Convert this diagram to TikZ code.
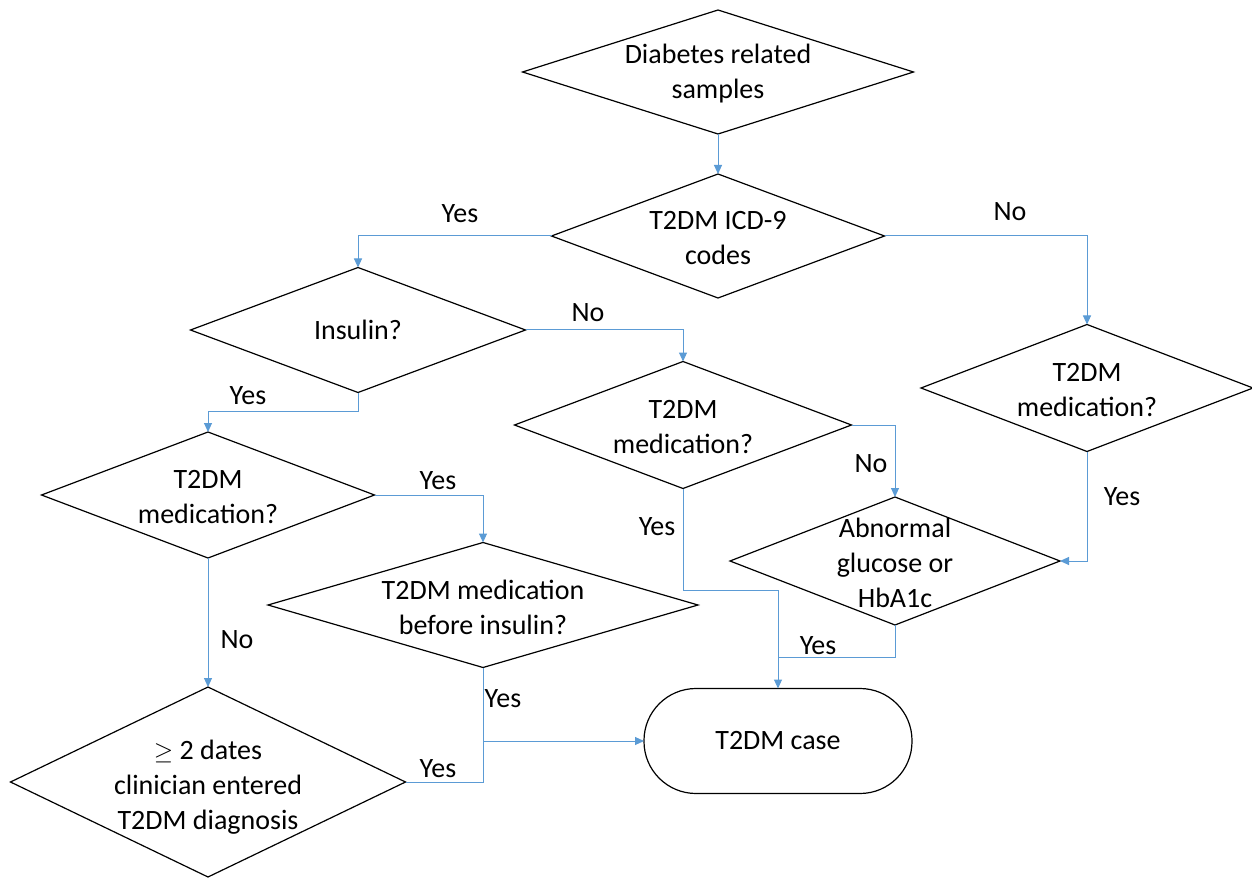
\documentclass[tikz,border=0pt]{standalone}
\usepackage{fontspec}
\setmainfont{Carlito}
\usetikzlibrary{shapes.geometric,arrows.meta}
\definecolor{lineblue}{RGB}{91,155,213}
\begin{document}
\begin{tikzpicture}[x=1pt,y=-1pt,
  dia/.style={draw=black,line width=1.2pt,shape=diamond,inner sep=0pt,outer sep=0pt},
  term/.style={draw=black,line width=1.2pt,rectangle,rounded corners=52pt,inner sep=0pt,outer sep=0pt,
    minimum width=268pt,minimum height=105pt,align=center,font=\fontsize{28}{35}\selectfont},
  txt/.style={align=center,font=\fontsize{28}{35}\selectfont,inner sep=0pt},
  lbl/.style={font=\fontsize{28}{35}\selectfont,inner sep=0pt},
  flow/.style={draw=lineblue,line width=1pt},
  arr/.style={flow,-{Triangle[length=9pt,width=8pt]}}]
\useasboundingbox (0,0) rectangle (1252,882);

\node[dia,minimum width=391pt,minimum height=124pt] (d1) at (718,72) {};
\node[txt] (d1t) at (718,74) {Diabetes related\\samples};
\node[dia,minimum width=333pt,minimum height=124pt] (d2) at (718,236) {};
\node[txt] (d2t) at (718,238) {T2DM ICD-9\\codes};
\node[dia,minimum width=335pt,minimum height=125pt] (d3) at (358,330) {};
\node[txt] (d3t) at (358,330) {Insulin?};
\node[dia,minimum width=337pt,minimum height=127pt] (d4) at (683,425) {};
\node[txt] (d4t) at (683,427) {T2DM\\medication?};
\node[dia,minimum width=332pt,minimum height=127pt] (d5) at (1087,388) {};
\node[txt] (d5t) at (1087,390) {T2DM\\medication?};
\node[dia,minimum width=333pt,minimum height=126pt] (d6) at (208,495) {};
\node[txt] (d6t) at (208,497) {T2DM\\medication?};
\node[dia,minimum width=330pt,minimum height=128pt] (d7) at (895,561) {};
\node[txt] (d7t) at (895,563) {Abnormal\\glucose or\\HbA1c};
\node[dia,minimum width=430pt,minimum height=125pt] (d8) at (483,605) {};
\node[txt] (d8t) at (483,607) {T2DM medication\\before insulin?};
\node[dia,minimum width=395pt,minimum height=190pt] (d9) at (208,782) {};
\node[txt] (d9t) at (208,787) {$\geq$ 2 dates\\clinician entered\\T2DM diagnosis};
\node[term] (case) at (778,741) {T2DM case};

\coordinate (k1) at (683,590);
\coordinate (m1) at (778,657);
\coordinate (j2) at (483,741);

\draw[arr] (d1.south) -- (d2.north);
\draw[arr] (d2.west) -| (d3.north);
\draw[arr] (d2.east) -| (d5.north);
\draw[arr] (d3.east) -| (d4.north);
\draw[arr] (d3.south) -- ++(0,19) -| (d6.north);
\draw[arr] (d6.east) -| (d8.north);
\draw[arr] (d6.south) -- (d9.north);
\draw[arr] (d4.east) -| (d7.north);
\draw[arr] (d5.south) |- (d7.east);
\draw[arr] (d4.south) -- (k1) -| (case.north);
\draw[flow] (d7.south) |- (m1);
\draw[arr] (d8.south) |- (case.west);
\draw[flow] (d9.east) -| (j2);

\node[lbl] (l1) at (460,214) {Yes};
\node[lbl] (l2) at (1010,212) {No};
\node[lbl] (l3) at (588,313) {No};
\node[lbl] (l4) at (248,396) {Yes};
\node[lbl] (l5) at (438,481) {Yes};
\node[lbl] (l6) at (871,464) {No};
\node[lbl] (l7) at (1122,497) {Yes};
\node[lbl] (l8) at (657,527) {Yes};
\node[lbl] (l9) at (237,640) {No};
\node[lbl] (l10) at (818,646) {Yes};
\node[lbl] (l11) at (503,699) {Yes};
\node[lbl] (l12) at (438,769) {Yes};
\end{tikzpicture}
\end{document}
